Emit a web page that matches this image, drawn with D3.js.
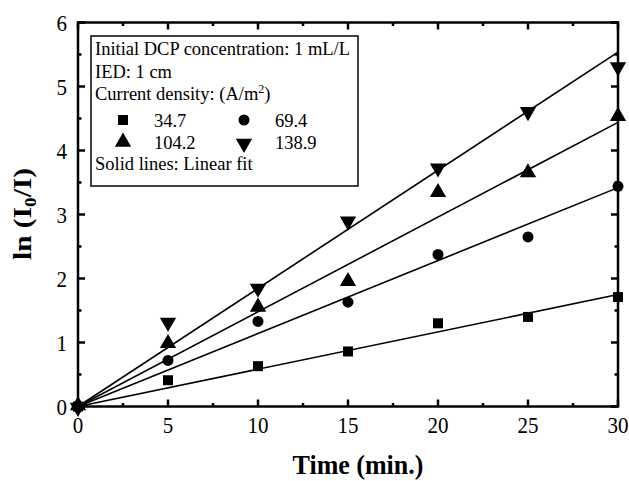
<!DOCTYPE html>
<html><head><meta charset="utf-8">
<script src="https://cdn.jsdelivr.net/npm/d3@7"></script>
<style>body{margin:0;background:#fff}svg{display:block}text{font-family:"Liberation Serif","Times New Roman",serif;fill:#000}</style>
</head><body><svg id="c" width="629" height="481"></svg>
<script>
const times = [0, 5, 10, 15, 20, 25, 30];
const s347 = [0, 0.41, 0.63, 0.86, 1.30, 1.40, 1.71];
const s694 = [0, 0.72, 1.33, 1.63, 2.375, 2.65, 3.44];
const s1042 = [0, 0.97, 1.54, 1.94, 3.33, 3.64, 4.52];
const s1389 = [0, 1.33, 1.86, 2.91, 3.74, 4.62, 5.32];
const fitSlopes = [0.0583, 0.114, 0.148, 0.1846];
const seriesNames = ["34.7", "69.4", "104.2", "138.9"];
const xTicks = [0, 5, 10, 15, 20, 25, 30];
const yTicks = [0, 1, 2, 3, 4, 5, 6];

const svg = d3.select("#c");
const x = d3.scaleLinear().domain([0, 30]).range([78, 618]);
const y = d3.scaleLinear().domain([0, 6]).range([406.5, 22.5]);
const shapes = [d3.symbolSquare, d3.symbolCircle, d3.symbolTriangle, d3.symbolTriangle];
const sizes = [100, 95, 115, 115];
const rot = [0, 0, 0, 180];
const allSeries = [s347, s694, s1042, s1389];
const SY = 1.13;

// fit lines
allSeries.forEach((s, i) => {
  svg.append("line").attr("x1", x(0)).attr("y1", y(0))
    .attr("x2", x(30)).attr("y2", y(fitSlopes[i] * 30))
    .attr("stroke", "#000").attr("stroke-width", 1.6);
});
// markers
allSeries.forEach((s, i) => {
  svg.append("g").selectAll("path").data(s).join("path")
    .attr("d", d3.symbol().type(shapes[i]).size(sizes[i]))
    .attr("transform", (d, j) => `translate(${x(times[j])},${y(d) + (i===2?-1:i===3?1:0)}) rotate(${rot[i]})`)
    .attr("fill", "#000");
});

// tick labels (built from axis generators' scales)
const gb = svg.append("g");
gb.selectAll("text").data(xTicks).join("text")
  .attr("transform", d => `translate(${x(d)},${432.5}) scale(1,${SY})`)
  .attr("text-anchor", "middle").attr("font-size", 21).text(d3.format("d"));
const gl = svg.append("g");
gl.selectAll("text").data(yTicks).join("text")
  .attr("transform", d => `translate(67,${y(d) + 8}) scale(1,${SY})`)
  .attr("text-anchor", "end").attr("font-size", 21).text(d3.format("d"));

// frame
const ax = svg.append("g").attr("stroke", "#000");
svg.append("rect").attr("x", x(0)).attr("y", y(6)).attr("width", x(30) - x(0)).attr("height", y(0) - y(6))
  .attr("fill", "none").attr("stroke", "#000").attr("stroke-width", 2.5);
// ticks inward
const minorX = d3.range(2.5, 30, 5);
const minorY = d3.range(0.5, 6, 1);
const T = 7, t = 3.5;
xTicks.forEach(v => {
  ax.append("line").attr("x1", x(v)).attr("x2", x(v)).attr("y1", y(0)).attr("y2", y(0) - T).attr("stroke-width", 2.5);
  ax.append("line").attr("x1", x(v)).attr("x2", x(v)).attr("y1", y(6)).attr("y2", y(6) + T).attr("stroke-width", 2.5);
});
minorX.forEach(v => {
  ax.append("line").attr("x1", x(v)).attr("x2", x(v)).attr("y1", y(0)).attr("y2", y(0) - t).attr("stroke-width", 2.5);
  ax.append("line").attr("x1", x(v)).attr("x2", x(v)).attr("y1", y(6)).attr("y2", y(6) + t).attr("stroke-width", 2.5);
});
yTicks.forEach(v => {
  ax.append("line").attr("y1", y(v)).attr("y2", y(v)).attr("x1", x(0)).attr("x2", x(0) + T).attr("stroke-width", 2.5);
  ax.append("line").attr("y1", y(v)).attr("y2", y(v)).attr("x1", x(30)).attr("x2", x(30) - T).attr("stroke-width", 2.5);
});
minorY.forEach(v => {
  ax.append("line").attr("y1", y(v)).attr("y2", y(v)).attr("x1", x(0)).attr("x2", x(0) + t).attr("stroke-width", 2.5);
  ax.append("line").attr("y1", y(v)).attr("y2", y(v)).attr("x1", x(30)).attr("x2", x(30) - t).attr("stroke-width", 2.5);
});

// axis titles
svg.append("text").attr("transform", `translate(358,474) scale(1,1.05)`).attr("text-anchor", "middle")
  .attr("font-size", 26).attr("font-weight", "bold").text("Time (min.)");
const yl = svg.append("text").attr("transform", `translate(31,214) rotate(-90) scale(${SY},1)`).attr("text-anchor", "middle")
  .attr("font-size", 26).attr("font-weight", "bold");
yl.append("tspan").text("ln (I");
yl.append("tspan").attr("font-size", 17).attr("dy", 5).text("0");
yl.append("tspan").attr("dy", -5).text("/I)");

// legend
const lg = svg.append("g");
lg.append("rect").attr("x", 91).attr("y", 36).attr("width", 267).attr("height", 150)
  .attr("fill", "#fff").attr("stroke", "#000").attr("stroke-width", 1.5);
const fs = 18.5;
function lt(xp, yp){ return lg.append("text").attr("transform", `translate(${xp},${yp}) scale(1,1.05)`).attr("font-size", fs); }
lt(95, 55).text("Initial DCP concentration: 1 mL/L");
lt(95, 78).text("IED: 1 cm");
const cd = lt(95, 100);
cd.append("tspan").text("Current density: (A/m");
cd.append("tspan").attr("font-size", 12).attr("dy", -7).text("2");
cd.append("tspan").attr("dy", 7).text(")");
lt(95, 170).text("Solid lines: Linear fit");
const lpos = [[123, 120], [244, 120], [123, 142], [244, 143.5]];
seriesNames.forEach((n, i) => {
  lg.append("path").attr("d", d3.symbol().type(shapes[i]).size(sizes[i]))
    .attr("transform", `translate(${lpos[i][0]},${lpos[i][1]}) rotate(${rot[i]})`).attr("fill", "#000");
  lt(lpos[i][0] + 31, (i < 2 ? 127 : 149)).text(n);
});
</script></body></html>
